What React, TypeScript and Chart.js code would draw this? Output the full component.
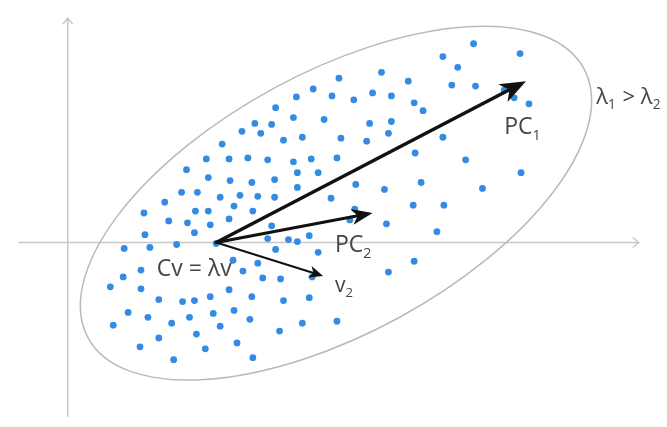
import React, { useEffect, useRef } from "react";
import { Chart, registerables } from "chart.js";

Chart.register(...registerables);

// Sample points, [x, y] in plot units (origin where the two axes cross).
const upperCloud: [number, number][] = [
  [24.8, 15.6], [23.1, 14.8], [21.0, 13.7], [22.8, 12.7], [18.9, 12.1], [20.6, 12.0],
  [17.6, 11.3], [19.5, 11.1], [21.8, 10.4], [23.7, 10.7], [15.6, 10.0], [31.7, 17.3],
  [27.4, 16.7], [34.4, 16.4], [26.7, 14.9], [28.9, 14.5], [30.8, 15.2], [32.7, 14.9],
  [35.0, 14.2], [25.9, 12.5], [30.5, 12.1], [32.7, 12.3], [32.4, 11.1], [27.6, 10.6],
  [30.2, 10.3], [41.0, 20.2], [45.7, 19.2], [37.9, 18.9], [39.4, 17.8], [38.8, 16.0],
  [41.2, 15.9], [44.1, 15.5], [45.1, 14.7], [46.6, 14.1], [35.9, 13.4], [37.9, 10.7],
];

const middleCloud: [number, number][] = [
  [14.0, 8.5], [12.0, 7.4], [14.2, 6.6], [11.5, 5.1], [13.1, 5.1], [9.8, 4.1],
  [7.7, 3.0], [12.9, 3.2], [14.2, 3.2], [10.2, 2.2], [12.1, 2.0], [14.4, 1.8],
  [12.8, 1.0], [7.8, 0.8], [11.0, -0.2], [8.3, -0.5], [5.7, -0.6], [16.3, 8.5],
  [18.2, 8.6], [20.2, 8.4], [22.8, 8.2], [24.6, 8.5], [23.2, 7.1], [16.4, 6.3],
  [18.6, 6.1], [20.9, 6.4], [23.2, 5.6], [15.4, 4.6], [17.4, 4.8], [19.2, 4.7],
  [20.9, 4.6], [16.8, 3.7], [18.7, 3.2], [16.3, 2.4], [20.6, 1.7], [20.2, 0.4],
  [22.3, 0.3], [23.2, 0.1], [24.4, 0.7], [15.0, -0.1], [21.0, -0.7], [27.2, 8.6],
  [25.3, 7.1], [35.1, 9.1], [29.1, 5.9], [32.0, 5.4], [26.6, 4.5], [34.9, 3.8],
  [29.0, 3.4], [28.5, 2.3], [32.2, 1.9], [40.2, 8.4], [45.8, 7.1], [35.7, 6.1],
  [41.9, 5.5], [38.0, 3.8], [37.3, 1.1],
];

const lowerCloud: [number, number][] = [
  [7.4, -2.8], [5.6, -3.5], [4.3, -4.5], [7.4, -4.7], [9.2, -5.8], [11.6, -6.0],
  [12.8, -5.9], [14.4, -5.5], [6.1, -7.1], [8.1, -7.6], [10.5, -8.2], [12.3, -7.6],
  [4.6, -8.4], [9.2, -9.7], [13.0, -9.3], [7.3, -10.6], [13.9, -10.8], [10.7, -11.9],
  [16.7, -1.8], [19.2, -2.1], [17.7, -2.9], [19.7, -3.6], [21.5, -3.7], [24.7, -3.5],
  [16.3, -4.8], [18.6, -5.5], [21.8, -5.9], [24.4, -5.6], [14.7, -7.2], [16.8, -6.9],
  [18.4, -7.8], [15.4, -8.5], [21.4, -9.0], [23.7, -8.2], [17.1, -10.2], [18.7, -11.7],
  [25.3, -1.0], [35.0, -1.9], [32.4, -3.0], [27.2, -8.0],
];

// Vectors drawn from the sample mean.
const vectorOrigin: [number, number] = [15.0, 0.0];
const pc1Tip: [number, number] = [46.3, 16.4];
const pc2Tip: [number, number] = [30.8, 3.0];
const v2Tip: [number, number] = [25.8, -3.4];

// Covariance ellipse: centre, semi-axes (plot units) and tilt in degrees.
const ellipseCenter: [number, number] = [27.1, 4.0];
const ellipseRadii: [number, number] = [28.5, 13.2];
const ellipseTilt = 28.5;

// Axis extents.
const xAxisRange: [number, number] = [-5.0, 57.7];
const yAxisRange: [number, number] = [-17.7, 22.8];

type Seg = { t: string; sub?: boolean };
const labels: { at: [number, number]; size: number; segs: Seg[] }[] = [
  { at: [53.4, 14.1], size: 22, segs: [{ t: "λ" }, { t: "1", sub: true }, { t: " > λ" }, { t: "2", sub: true }] },
  { at: [44.1, 11.0], size: 23, segs: [{ t: "PC" }, { t: "1", sub: true }] },
  { at: [27.0, -1.0], size: 23, segs: [{ t: "PC" }, { t: "2", sub: true }] },
  { at: [9.0, -3.4], size: 23, segs: [{ t: "Cv = λv" }] },
  { at: [27.0, -5.0], size: 21, segs: [{ t: "v" }, { t: "2", sub: true }] },
];

const FONT = '"Open Sans", "Noto Sans", sans-serif';

function drawArrow(
  ctx: CanvasRenderingContext2D,
  x1: number, y1: number, x2: number, y2: number,
  width: number, headLen: number, headHalf: number
) {
  const ang = Math.atan2(y2 - y1, x2 - x1);
  const cos = Math.cos(ang), sin = Math.sin(ang);
  const bx = x2 - cos * headLen, by = y2 - sin * headLen;
  const nx = x2 - cos * headLen * 0.72, ny = y2 - sin * headLen * 0.72;
  ctx.lineWidth = width;
  ctx.lineCap = "round";
  ctx.beginPath();
  ctx.moveTo(x1, y1);
  ctx.lineTo(nx, ny);
  ctx.stroke();
  ctx.beginPath();
  ctx.moveTo(x2, y2);
  ctx.lineTo(bx - sin * headHalf, by + cos * headHalf);
  ctx.lineTo(nx, ny);
  ctx.lineTo(bx + sin * headHalf, by - cos * headHalf);
  ctx.closePath();
  ctx.fill();
}

const diagramPlugin = {
  id: "diagram",
  beforeDatasetsDraw(chart: any) {
    const { ctx } = chart;
    const xs = chart.scales.x, ys = chart.scales.y;
    const px = (v: number) => xs.getPixelForValue(v);
    const py = (v: number) => ys.getPixelForValue(v);
    ctx.save();
    // axes
    ctx.strokeStyle = "#c8c8c8";
    ctx.lineWidth = 1.5;
    const x0 = px(0), y0 = py(0);
    const xr = px(xAxisRange[1]), yt = py(yAxisRange[1]);
    ctx.beginPath();
    ctx.moveTo(px(xAxisRange[0]), y0);
    ctx.lineTo(xr, y0);
    ctx.moveTo(xr - 6, y0 - 5);
    ctx.lineTo(xr, y0);
    ctx.lineTo(xr - 6, y0 + 5);
    ctx.moveTo(x0, py(yAxisRange[0]));
    ctx.lineTo(x0, yt);
    ctx.moveTo(x0 - 5, yt + 6);
    ctx.lineTo(x0, yt);
    ctx.lineTo(x0 + 5, yt + 6);
    ctx.stroke();
    // ellipse
    const cx = px(ellipseCenter[0]), cy = py(ellipseCenter[1]);
    const rx = px(ellipseCenter[0] + ellipseRadii[0]) - cx;
    const ry = px(ellipseCenter[0] + ellipseRadii[1]) - cx;
    ctx.strokeStyle = "#b9b9b9";
    ctx.lineWidth = 1.5;
    ctx.beginPath();
    ctx.ellipse(cx, cy, rx, ry, (-ellipseTilt * Math.PI) / 180, 0, Math.PI * 2);
    ctx.stroke();
    ctx.restore();
  },
  afterDatasetsDraw(chart: any) {
    const { ctx } = chart;
    const xs = chart.scales.x, ys = chart.scales.y;
    const px = (v: number) => xs.getPixelForValue(v);
    const py = (v: number) => ys.getPixelForValue(v);
    ctx.save();
    ctx.strokeStyle = "#111";
    ctx.fillStyle = "#111";
    const ox = px(vectorOrigin[0]), oy = py(vectorOrigin[1]);
    drawArrow(ctx, ox, oy, px(pc1Tip[0]), py(pc1Tip[1]), 3.5, 26, 10);
    drawArrow(ctx, ox, oy, px(pc2Tip[0]), py(pc2Tip[1]), 3, 21, 8);
    drawArrow(ctx, ox, oy, px(v2Tip[0]), py(v2Tip[1]), 2, 14, 6);
    // labels
    ctx.fillStyle = "#444";
    ctx.textBaseline = "alphabetic";
    ctx.textAlign = "left";
    for (const lb of labels) {
      let x = px(lb.at[0]);
      const y = py(lb.at[1]);
      for (const s of lb.segs) {
        const size = s.sub ? lb.size * 0.62 : lb.size;
        ctx.font = `${size}px ${FONT}`;
        ctx.fillText(s.t, x, s.sub ? y + lb.size * 0.25 : y);
        x += ctx.measureText(s.t).width + (s.sub ? 1 : 0);
      }
    }
    ctx.restore();
  },
};

export default function App() {
  const ref = useRef<HTMLCanvasElement | null>(null);
  useEffect(() => {
    if (!ref.current) return;
    const pts = [...upperCloud, ...middleCloud, ...lowerCloud].map(([x, y]) => ({ x, y }));
    const chart = new Chart(ref.current, {
      type: "scatter",
      data: {
        datasets: [
          {
            data: pts,
            pointRadius: 3.4,
            pointBackgroundColor: "#338ce2",
            pointBorderWidth: 0,
            pointHoverRadius: 3.4,
          },
        ],
      },
      options: {
        animation: false,
        responsive: false,
        devicePixelRatio: 1,
        layout: { padding: 0 },
        scales: {
          x: { type: "linear", min: -6.5, max: 60.2, display: false },
          y: { type: "linear", min: -18.4, max: 24.3, display: false },
        },
        plugins: { legend: { display: false }, tooltip: { enabled: false } },
      },
      plugins: [diagramPlugin],
    });
    return () => chart.destroy();
  }, []);
  return (
    <div style={{ position: "fixed", left: 0, top: 0, width: 667, height: 427, background: "#fff" }}>
      <canvas ref={ref} width={667} height={427} />
    </div>
  );
}
